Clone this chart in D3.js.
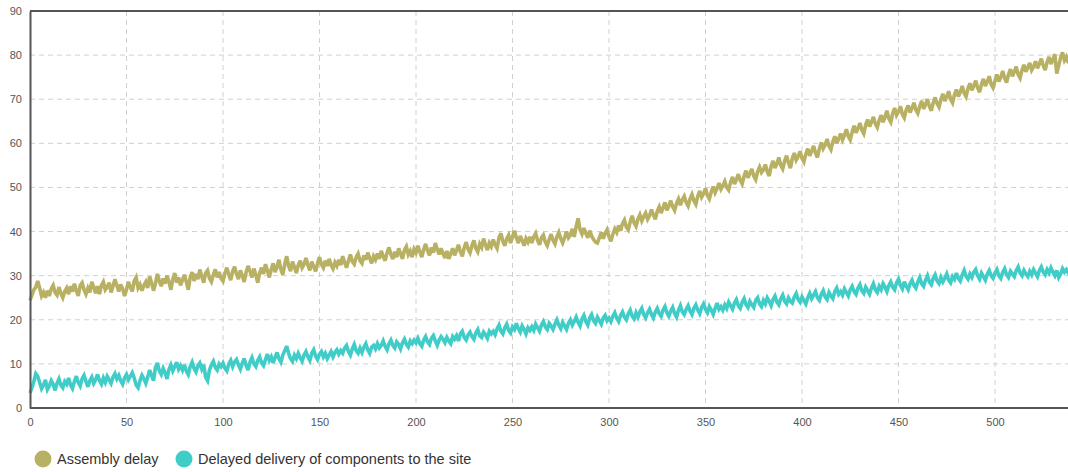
<!DOCTYPE html>
<html>
<head>
<meta charset="utf-8">
<script src="https://cdn.jsdelivr.net/npm/d3@7/dist/d3.min.js"></script>
<style>
  html, body { margin: 0; padding: 0; background: #fff; }
  svg { display: block; font-family: "Liberation Sans", Arial, sans-serif; }
</style>
</head>
<body>
<svg id="chart" width="1068" height="472"></svg>
<script>
// One observation per step, starting at 0
const step = 1;

const assemblyDelay = [
  24.4, 25.6, 26.8, 27.4, 28.8, 27.2, 25.4, 26.2, 25, 26.6, 25.4, 27, 27.8, 26.2, 25.6, 27.4, 26, 25, 26.4, 27.2,
  25.8, 27.6, 26.4, 28.2, 26.6, 25.4, 27.8, 28.4, 26.8, 25.8, 27.2, 26.2, 28.6, 27.4, 26, 27.6, 25.8, 27.8, 28.6, 26.8,
  27.4, 28.4, 26.2, 27.6, 29.2, 27.8, 26.4, 28, 27, 25.4, 26.8, 28.6, 27.4, 26.4, 28.8, 29.6, 27.2, 28, 26.6, 27.8,
  28.6, 27.2, 29.8, 28.4, 26.6, 28.2, 30.4, 28.8, 27.6, 29.4, 28.2, 30, 28.6, 26.8, 29.2, 30.6, 28.4, 29.6, 27.8, 29,
  30.2, 28.6, 26.8, 29.6, 30.8, 28.8, 30.4, 29.2, 31.4, 29.8, 28.4, 30.6, 31.2, 29.4, 28.6, 30.2, 31.4, 29.6, 30.8, 29.4,
  28.8, 30.6, 31.8, 30.2, 29, 31, 32, 30.4, 29.2, 31.2, 30, 28.6, 30.8, 32.2, 31, 29.6, 31.6, 30.2, 28.4, 30.6,
  31.8, 30.4, 32.6, 31.2, 29.6, 31.4, 32.8, 30.8, 32, 33.6, 31.4, 30.2, 32.6, 34.4, 32.2, 31, 33.2, 32, 30.6, 32.4,
  33.4, 31.8, 32.6, 34, 32.4, 31.2, 33.2, 32, 31, 32.8, 34.2, 32.6, 31.8, 33.4, 32.2, 33.8, 32.4, 31.6, 33, 32.2,
  33.6, 32.4, 34.4, 33, 31.8, 33.4, 34.8, 33.2, 32.6, 34.2, 35, 33.4, 32.8, 34.6, 33.6, 35.2, 34, 32.8, 34.4, 33.6,
  35, 33.8, 35.6, 34.4, 33.4, 35.2, 36.4, 34.8, 33.8, 35.4, 34.2, 36.2, 35, 33.8, 35.8, 36.6, 34.8, 35.6, 34.2, 36,
  35.2, 36.8, 35.4, 34.2, 36, 37.2, 35.6, 34.6, 36.4, 35.2, 37.4, 36, 34.8, 36.2, 35, 34, 35.6, 33.8, 35, 36.2,
  34.6, 35.8, 37, 35.4, 34.4, 36.4, 37.6, 36, 35.2, 36.8, 38, 36.2, 35.4, 37.2, 36.4, 38.4, 37, 35.8, 37.4, 36.6,
  38.2, 37, 36.2, 38.6, 39.6, 37.8, 36.8, 38.4, 39.2, 37.4, 38.8, 40.2, 38.6, 37.4, 39, 38, 36.8, 38.4, 37.6, 38.8,
  37.4, 38.8, 39.6, 38, 37, 38.6, 39.2, 37.6, 36.8, 38.2, 39.4, 38, 37.2, 38.8, 39.8, 38.4, 37.4, 38.6, 40, 38.6,
  39.2, 40.6, 38.8, 41.2, 43, 40.4, 39.4, 40.8, 39.6, 38.6, 40.2, 39, 38.2, 37.6, 37.4, 38.6, 39.8, 38.4, 39.6, 40.4,
  38.8, 37.8, 39.4, 40.6, 39.8, 41.4, 40.2, 41.8, 42.6, 41, 40.4, 42.2, 43.6, 42, 41.2, 42.8, 43.8, 42.4, 43.4, 44.2,
  42.8, 43.6, 45, 43.8, 42.8, 44.6, 45.6, 44.2, 45.4, 46.6, 44.8, 45.8, 47, 45.6, 44.8, 46.4, 47.4, 46, 47.2, 48,
  46.6, 45.8, 47.4, 48.4, 47, 46.2, 48, 49.2, 47.8, 48.6, 49.8, 48.2, 47.4, 49, 50.2, 48.8, 49.8, 51, 49.6, 50.4,
  51.4, 50, 49.4, 51.2, 52.4, 50.8, 51.8, 53, 51.6, 50.8, 52.6, 53.8, 52.2, 53.2, 54.2, 52.6, 51.8, 53.6, 54.6, 53.4,
  54, 55.2, 53.6, 52.6, 54.8, 56, 54.4, 55.4, 56.8, 55, 54.2, 56, 57.2, 55.6, 54.4, 56.6, 57.8, 56.2, 57, 58.2,
  56.6, 55.8, 57.6, 58.8, 57.2, 58.2, 59.4, 57.8, 56.8, 58.8, 60.2, 58.8, 59.6, 61, 59.4, 58.6, 60.4, 61.6, 60, 61,
  62.2, 60.8, 61.8, 63.2, 61.6, 60.8, 62.6, 64, 62.4, 63.4, 64.6, 63, 62.2, 64.2, 65.4, 63.8, 64.8, 66, 64.4, 63.6,
  65.2, 66.4, 64.8, 66, 67.4, 65.6, 64.8, 66.8, 68, 66.4, 67.2, 68.4, 66.6, 65.8, 67.6, 68.6, 67, 68, 69.2, 67.6,
  66.8, 68.4, 69.6, 67.8, 68.8, 70, 68.4, 67.4, 69.2, 70.4, 69, 68.2, 70, 71.2, 69.6, 70.6, 71.8, 70, 69.2, 71,
  72.2, 70.6, 71.6, 73, 71.4, 70.6, 72.4, 73.6, 72, 73, 74.2, 72.6, 71.6, 73.4, 74.6, 73, 74, 75.2, 73.4, 72.6,
  74.2, 75.6, 74, 75, 76.4, 74.8, 73.8, 75.6, 76.8, 75.2, 76.2, 77.4, 75.6, 74.8, 76.6, 77.8, 76.2, 77.2, 78.2, 76.6,
  77.4, 78.6, 77, 78, 79.2, 77.6, 76.6, 78.4, 79.6, 78, 79, 80.2, 75.8, 77.6, 79.4, 80.6, 78.8, 79.6, 78.2, 79.4
];

const delayedDelivery = [
  3.4, 4.6, 6, 7.8, 7.2, 5.8, 4.4, 5.2, 6.4, 4.2, 5, 6.2, 5.4, 4, 5.6, 6.6, 5.2, 4.6, 6, 5.4,
  6.8, 5.2, 4.4, 6, 7.2, 5.8, 5, 6.6, 7.4, 6, 4.8, 6.2, 7, 5.6, 6.4, 7.6, 6.2, 5.4, 6.8, 5.8,
  7.2, 6.4, 5.6, 7, 7.8, 6.6, 7.4, 6.2, 5.4, 6.8, 7.6, 6.4, 7.2, 8, 6.8, 5.2, 4.6, 6.2, 7.4, 6.6,
  5.6, 7, 8.6, 7.4, 6.2, 9.2, 10.2, 8.4, 7.6, 9, 8, 6.6, 8.8, 9.8, 8.4, 9.4, 10.4, 8.8, 9.6, 8.6,
  9.8, 8.4, 7.6, 9.4, 10.4, 9, 8.2, 9.6, 10.2, 8.8, 9.8, 7, 6.2, 8.6, 9.8, 10.6, 9.2, 8.6, 10, 9.4,
  10.2, 9, 8.4, 10, 10.8, 9.4, 10.4, 11, 9.8, 8.8, 10.2, 11.2, 9.6, 8.6, 10.4, 11.4, 10, 9.4, 10.8, 11.6,
  10.2, 9.6, 11, 12.2, 10.8, 11.6, 10.2, 11.4, 12.6, 11.2, 10.4, 12, 13, 14, 12.4, 11.2, 10.6, 12, 11.2, 12.4,
  11.4, 10.6, 12, 12.8, 11.6, 10.8, 12.4, 13.2, 11.8, 11, 12.2, 12.8, 11.6, 12.4, 11.2, 12, 12.8, 11.6, 12.6, 13.2,
  12.2, 13, 12.4, 13.6, 14.2, 12.8, 12, 13.4, 14.4, 13, 12.4, 13.6, 12.6, 13.8, 14.6, 13.2, 12.4, 13.8, 14.2, 13.4,
  14.6, 13.6, 14.2, 15.2, 14, 13.2, 14.6, 15.4, 14.2, 13.6, 15, 14.4, 13.4, 14.8, 15.6, 14.4, 13.8, 15.2, 14.6, 15.4,
  14.8, 15.8, 14.6, 14, 15.4, 16.2, 15, 14.4, 15.8, 16.4, 15.2, 14.2, 15.4, 16.2, 15.6, 14.8, 16, 15.2, 14.6, 16.2,
  15.6, 16.4, 15.2, 16.8, 17.4, 16, 15.4, 16.6, 17.2, 16.2, 15.6, 17, 17.8, 16.4, 16, 17.2, 16.6, 15.8, 17.4, 16.8,
  17.4, 16.6, 18, 18.8, 17.4, 16.8, 18.2, 19, 17.6, 17, 18.4, 17.8, 19.2, 18, 17.2, 18.6, 17.8, 16.8, 18.2, 17.6,
  18.4, 17.6, 19, 18.2, 17.4, 18.8, 19.6, 18.4, 17.8, 19.2, 18.6, 17.8, 19, 20, 18.8, 18, 19.4, 18.6, 17.8, 19.2,
  20, 18.8, 19.6, 20.6, 19.4, 18.6, 20.2, 21, 19.6, 18.8, 20.4, 21.2, 19.8, 19.2, 20.6, 19.8, 19, 20.4, 21, 19.8,
  20.4, 19.6, 20.8, 21.6, 20.4, 19.6, 21, 21.8, 20.6, 20, 21.4, 22.2, 20.8, 20.2, 21.6, 20.6, 21.8, 22.6, 21.2, 20.4,
  21.6, 22.4, 21.2, 20.4, 21.8, 22.6, 21.4, 20.8, 22.2, 23, 21.6, 20.8, 22, 22.8, 21.4, 20.6, 22.2, 23.2, 21.8, 21.2,
  22.4, 23.2, 22, 21.2, 22.6, 23.4, 22.2, 21.4, 22.8, 23.6, 22.4, 21.6, 23, 22.2, 21.2, 22.6, 23.8, 22.4, 23, 22.2,
  23.4, 22.6, 24, 23.2, 22.4, 23.8, 24.6, 23.2, 22.6, 24, 24.8, 23.4, 22.8, 24.2, 23.4, 22.8, 24.4, 25, 23.6, 23,
  24.4, 23.6, 25, 24.2, 23.2, 24.6, 25.4, 24, 23.4, 24.8, 25.6, 24.2, 23.6, 25, 24.2, 23.8, 25.2, 26, 24.6, 24,
  25.2, 24.4, 23.6, 25, 26, 24.8, 25.6, 26.4, 25, 24.4, 25.8, 26.6, 25.2, 24.6, 26.2, 25.4, 24.8, 26.4, 27.2, 25.8,
  26.4, 25.6, 27, 26.2, 25.4, 26.8, 27.6, 26.4, 25.8, 27.2, 28, 26.6, 26, 27.4, 26.6, 25.8, 27.2, 28.2, 26.8, 26.2,
  27.6, 26.8, 28.2, 27.4, 26.4, 27.8, 28.6, 27.4, 26.8, 28.4, 29.2, 27.8, 27, 28.6, 27.6, 26.8, 28.2, 29, 27.8, 27.2,
  28.6, 29.6, 28.2, 27.6, 29, 30, 28.6, 28, 29.4, 30.2, 28.8, 28.2, 29.6, 28.6, 29.4, 30.4, 29, 28.4, 29.8, 29.2,
  30.6, 29.4, 28.8, 30.2, 31.2, 29.8, 29.2, 30.4, 29.6, 30.8, 31.4, 30, 29.2, 30.6, 29.8, 29, 30.4, 31.2, 30, 29.4,
  30.6, 31.4, 30, 29.4, 30.8, 31.6, 30.2, 29.6, 31, 30.4, 29.8, 31.2, 32, 30.6, 30, 31.2, 30.4, 29.8, 31, 30.2,
  31.4, 30.6, 29.8, 31.2, 32, 30.8, 30.2, 31.4, 30.6, 31.8, 30.8, 30, 31.2, 29.6, 30.4, 31.6, 30.8, 31.4, 30.6, 31.2
];

const xTicks = [0, 50, 100, 150, 200, 250, 300, 350, 400, 450, 500];
const yTicks = [0, 10, 20, 30, 40, 50, 60, 70, 80, 90];

const seriesNames = ["Assembly delay", "Delayed delivery of components to the site"];
const seriesColors = ["#b8b062", "#40cdc8"];

const svg = d3.select("#chart");
const plotLeft = 30, plotTop = 11, plotBottom = 408, plotRight = 1080;

const x = d3.scaleLinear().domain([0, 500]).range([plotLeft, 995]);
const y = d3.scaleLinear().domain([0, 90]).range([plotBottom, plotTop]);

// Grid
const grid = svg.append("g");
grid.selectAll("line.h").data(yTicks.filter(v => v > 0 && v < 90)).join("line")
  .attr("class", "h")
  .attr("x1", plotLeft).attr("x2", plotRight)
  .attr("y1", d => y(d)).attr("y2", d => y(d))
  .attr("stroke", "#d0d0d0").attr("stroke-width", 1)
  .attr("stroke-dasharray", "5,4");
grid.selectAll("line.v").data(xTicks.filter(v => v > 0)).join("line")
  .attr("class", "v")
  .attr("x1", d => x(d)).attr("x2", d => x(d))
  .attr("y1", plotTop).attr("y2", plotBottom)
  .attr("stroke", "#d0d0d0").attr("stroke-width", 1)
  .attr("stroke-dasharray", "5,4");

// Lines
const line = d3.line()
  .x((d, i) => x(i * step))
  .y(d => y(d));

[assemblyDelay, delayedDelivery].forEach((vals, k) => {
  svg.append("path")
    .datum(vals)
    .attr("fill", "none")
    .attr("stroke", seriesColors[k])
    .attr("stroke-width", 3.6)
    .attr("stroke-linejoin", "miter")
    .attr("stroke-miterlimit", 3)
    .attr("d", line);
});

// Top frame edge
svg.append("line").attr("x1", plotLeft).attr("x2", plotRight).attr("y1", plotTop).attr("y2", plotTop)
  .attr("stroke", "#555").attr("stroke-width", 2);

// Axes
const yAxis = d3.axisLeft(y).tickValues(yTicks).tickSize(0).tickPadding(8);
const yg = svg.append("g").attr("transform", `translate(${plotLeft},0)`).call(yAxis);
yg.select(".domain").attr("stroke", "#555").attr("stroke-width", 2);
yg.selectAll("text").attr("fill", "#555").style("font-size", "11px");

const xAxis = d3.axisBottom(x).tickValues(xTicks).tickSize(0).tickPadding(10);
const xg = svg.append("g").attr("transform", `translate(0,${plotBottom})`).call(xAxis);
xg.select(".domain").attr("d", `M${plotLeft},0H${plotRight}`).attr("stroke", "#555").attr("stroke-width", 2);
xg.selectAll("text").attr("fill", "#555").style("font-size", "11px");

// Legend
const legend = svg.append("g");
const legendItems = [{ cx: 43, tx: 57 }, { cx: 184, tx: 198 }];
seriesNames.forEach((name, k) => {
  legend.append("circle")
    .attr("cx", legendItems[k].cx).attr("cy", 459).attr("r", 8.5)
    .attr("fill", seriesColors[k]);
  legend.append("text")
    .attr("x", legendItems[k].tx).attr("y", 464)
    .attr("fill", "#333").style("font-size", "14.5px")
    .text(name);
});
</script>
</body>
</html>
